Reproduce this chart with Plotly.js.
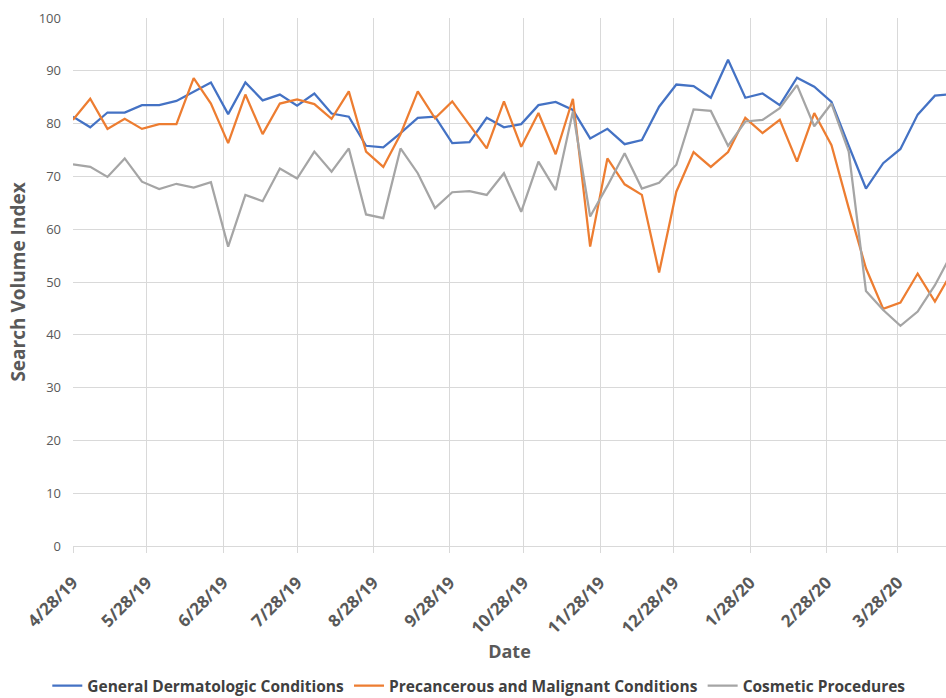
<!DOCTYPE html>
<html>
<head>
<meta charset="utf-8">
<script src="https://cdn.plot.ly/plotly-3.0.1.min.js"></script>
<style>
html,body{margin:0;padding:0;background:#fff;}
#chart{width:946px;height:698px;}
</style>
</head>
<body>
<div id="chart"></div>
<script>
const dates = [
  "2019-04-28","2019-05-05","2019-05-12","2019-05-19","2019-05-26",
  "2019-06-02","2019-06-09","2019-06-16","2019-06-23","2019-06-30",
  "2019-07-07","2019-07-14","2019-07-21","2019-07-28",
  "2019-08-04","2019-08-11","2019-08-18","2019-08-25",
  "2019-09-01","2019-09-08","2019-09-15","2019-09-22","2019-09-29",
  "2019-10-06","2019-10-13","2019-10-20","2019-10-27",
  "2019-11-03","2019-11-10","2019-11-17","2019-11-24",
  "2019-12-01","2019-12-08","2019-12-15","2019-12-22","2019-12-29",
  "2020-01-05","2020-01-12","2020-01-19","2020-01-26",
  "2020-02-02","2020-02-09","2020-02-16","2020-02-23",
  "2020-03-01","2020-03-08","2020-03-15","2020-03-22","2020-03-29",
  "2020-04-05","2020-04-12","2020-04-19"
];

const general = [
  81.3,79.3,82.1,82.1,83.5,83.5,84.3,86.1,87.8,81.8,
  87.8,84.4,85.5,83.4,85.7,81.9,81.3,75.8,75.5,78.2,
  81.1,81.3,76.3,76.5,81.1,79.3,79.9,83.5,84.1,82.6,
  77.2,79.0,76.1,76.9,83.2,87.4,87.1,84.9,92.1,84.9,
  85.7,83.5,88.7,87.0,84.1,75.8,67.7,72.5,75.2,81.7,
  85.3,85.6
];

const precancerous = [
  80.7,84.7,79.0,80.9,79.0,79.9,79.9,88.6,83.8,76.3,
  85.5,78.0,83.8,84.6,83.7,80.9,86.1,74.7,71.8,78.0,
  86.1,81.0,84.2,79.7,75.3,84.2,75.6,82.0,74.2,84.7,
  56.7,73.4,68.5,66.5,51.8,67.1,74.6,71.8,74.6,81.1,
  78.2,80.7,72.8,82.0,75.9,64.0,52.6,44.9,46.1,51.6,
  46.3,52.0
];

const cosmetic = [
  72.3,71.8,69.9,73.4,69.0,67.6,68.6,67.9,68.9,56.7,
  66.5,65.3,71.5,69.6,74.7,70.9,75.3,62.8,62.1,75.3,
  70.6,64.0,67.0,67.2,66.5,70.6,63.3,72.8,67.4,82.3,
  62.4,68.2,74.4,67.7,68.8,72.2,82.7,82.4,75.8,80.4,
  80.7,82.9,87.3,79.5,83.8,74.7,48.3,44.7,41.7,44.4,
  49.4,55.5
];

const seriesNames = ["General Dermatologic Conditions","Precancerous and Malignant Conditions","Cosmetic Procedures"];
const seriesColors = ["#4472C4","#ED7D31","#A5A5A5"];

const tickVals = ["2019-04-28","2019-05-28","2019-06-28","2019-07-28","2019-08-28","2019-09-28",
                  "2019-10-28","2019-11-28","2019-12-28","2020-01-28","2020-02-28","2020-03-28"];
const tickText = ["4/28/19","5/28/19","6/28/19","7/28/19","8/28/19","9/28/19",
                  "10/28/19","11/28/19","12/28/19","1/28/20","2/28/20","3/28/20"];

const yTicks = [0,10,20,30,40,50,60,70,80,90,100];

const seriesValues = [general, precancerous, cosmetic];
const traces = seriesValues.map((vals, i) => ({
  type: "scatter",
  mode: "lines",
  x: dates,
  y: vals,
  name: seriesNames[i],
  line: {color: seriesColors[i], width: 2.25}
}));

const FONT = "Open Sans, Liberation Sans, sans-serif";

const layout = {
  width: 946,
  height: 698,
  paper_bgcolor: "#ffffff",
  plot_bgcolor: "#ffffff",
  margin: {l: 73, r: 0, t: 18, b: 152},
  showlegend: true,
  legend: {
    orientation: "h",
    xref: "container", yref: "container",
    x: 0.05, xanchor: "left",
    y: 0.017, yanchor: "middle",
    font: {family: FONT, size: 15.5, color: "#404040", weight: "bold"},
    bgcolor: "rgba(0,0,0,0)"
  },
  xaxis: {
    type: "date",
    range: ["2019-04-28", "2020-04-16 12:00"],
    tickmode: "array",
    tickvals: tickVals,
    ticktext: tickText,
    tickangle: -45,
    tickfont: {family: FONT, size: 17, color: "#595959", weight: "bold"},
    ticks: "outside",
    ticklen: 6,
    tickcolor: "#d9d9d9",
    ticklabelstandoff: 13,
    showgrid: true,
    gridcolor: "#d9d9d9",
    gridwidth: 1,
    showline: true,
    linecolor: "#d9d9d9",
    linewidth: 1,
    zeroline: false,
    title: {text: "Date", font: {family: FONT, size: 18, color: "#595959", weight: "bold"}, standoff: 2}
  },
  yaxis: {
    range: [0, 100],
    tickmode: "array",
    tickvals: yTicks,
    ticktext: yTicks.map(String),
    tickfont: {family: FONT, size: 13, color: "#595959"},
    ticks: "",
    ticklabelstandoff: 11,
    showgrid: true,
    gridcolor: "#d9d9d9",
    gridwidth: 1,
    zeroline: false,
    showline: false,
    title: {text: "Search Volume Index", font: {family: FONT, size: 19, color: "#595959", weight: "bold"}, standoff: 8}
  }
};

Plotly.newPlot("chart", traces, layout, {displayModeBar: false, staticPlot: true});
</script>
</body>
</html>
